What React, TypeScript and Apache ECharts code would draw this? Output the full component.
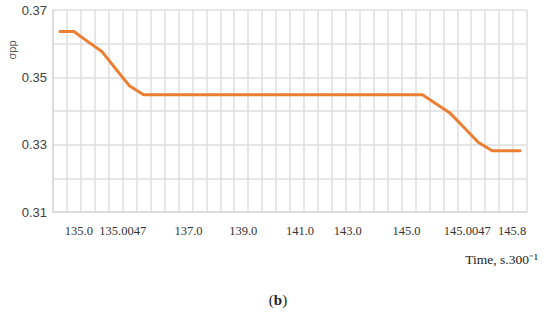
import React, { useEffect, useRef } from "react";
import * as echarts from "echarts";

// x categories (tick label shown under some of them)
const tickLabels = [
  "", "135.0", "", "", "135.0047", "", "", "", "", "137.0", "", "", "", "139.0", "", "", "",
  "141.0", "", "", "", "143.0", "", "", "", "145.0", "", "", "", "145.0047", "", "", "145.8", "",
];
// sigma_pp values per category
const sigmaValues = [
  0.3636, 0.3636, 0.3606, 0.3577, 0.3525, 0.3474,
  0.3448, 0.3448, 0.3448, 0.3448, 0.3448, 0.3448, 0.3448, 0.3448, 0.3448, 0.3448, 0.3448,
  0.3448, 0.3448, 0.3448, 0.3448, 0.3448, 0.3448, 0.3448, 0.3448, 0.3448, 0.3448,
  0.3421, 0.3393, 0.335, 0.3307, 0.3282, 0.3282, 0.3282,
];
const yMin = 0.31;
const yMax = 0.37;
const yStep = 0.01;

// small horizontal nudges (px) for the x tick labels
const labelNudge: Record<number, number> = { 1: 5, 4: 7, 9: 3, 13: 2, 17: 3, 21: -5, 25: -2, 29: 3, 32: 6 };

export default function App() {
  const ref = useRef<HTMLDivElement>(null);
  useEffect(() => {
    document.body.style.margin = "0";
    if (!ref.current) return;
    const chart = echarts.init(ref.current, null, { renderer: "svg" });
    const rich: Record<string, any> = {};
    Object.keys(labelNudge).forEach((k) => {
      const d = labelNudge[+k];
      rich["n" + k] = {
        fontFamily: "Liberation Serif",
        fontSize: 12.5,
        color: "#333",
        padding: d >= 0 ? [0, 0, 0, 2 * d] : [0, -2 * d, 0, 0],
      };
    });
    const cats = tickLabels.map((_, i) => String(i));
    chart.setOption({
      animation: false,
      grid: { left: 53, right: 23, top: 10, bottom: 101, containLabel: false },
      xAxis: {
        type: "category",
        data: cats,
        boundaryGap: true,
        axisLine: { show: true, lineStyle: { color: "#d9d9d9", width: 1.5 } },
        axisTick: { show: false },
        splitLine: { show: true, interval: 0, lineStyle: { color: "#dedede", width: 1.5 } },
        axisLabel: {
          interval: 0,
          margin: 12,
          fontFamily: "Liberation Serif",
          fontSize: 12.5,
          color: "#333",
          formatter: (v: string, idx: number) => {
            const t = tickLabels[idx];
            if (!t) return "";
            return labelNudge[idx] !== undefined ? `{n${idx}|${t}}` : t;
          },
          rich,
        },
      },
      yAxis: {
        type: "value",
        min: yMin,
        max: yMax,
        interval: yStep,
        axisLine: { show: true, lineStyle: { color: "#d9d9d9", width: 1.5 } },
        axisTick: { show: false },
        splitLine: { show: true, lineStyle: { color: "#dedede", width: 1.5 } },
        axisLabel: {
          margin: 6,
          fontFamily: "Liberation Sans",
          fontSize: 13,
          color: "#404040",
          formatter: (v: number) => (Math.round(v * 100) % 2 === 1 ? v.toFixed(2) : ""),
        },
      },
      series: [
        {
          type: "line",
          data: sigmaValues,
          showSymbol: false,
          symbol: "none",
          lineStyle: { color: "#ED7D31", width: 3, join: "round", cap: "round" },
        },
      ],
      graphic: [
        {
          type: "text",
          x: 12,
          y: 50,
          rotation: Math.PI / 2,
          style: {
            text: "σpp",
            fontFamily: "Liberation Sans",
            fontSize: 11,
            fill: "#595959",
            align: "center",
            verticalAlign: "middle",
          },
        },
        {
          type: "text",
          x: 538,
          y: 259,
          style: {
            text: "Time, s.300⁻¹",
            fontFamily: "Liberation Serif",
            fontSize: 13.5,
            fill: "#222",
            align: "right",
            verticalAlign: "middle",
          },
        },
        {
          type: "text",
          x: 278,
          y: 300,
          style: {
            text: "({b|b})",
            fontFamily: "Liberation Serif",
            fontSize: 15,
            fill: "#222",
            align: "center",
            verticalAlign: "middle",
            rich: { b: { fontFamily: "Liberation Serif", fontSize: 15, fontWeight: "bold", fill: "#222" } },
          },
        },
      ],
    });
    return () => chart.dispose();
  }, []);
  return <div ref={ref} style={{ width: 550, height: 313 }} />;
}
